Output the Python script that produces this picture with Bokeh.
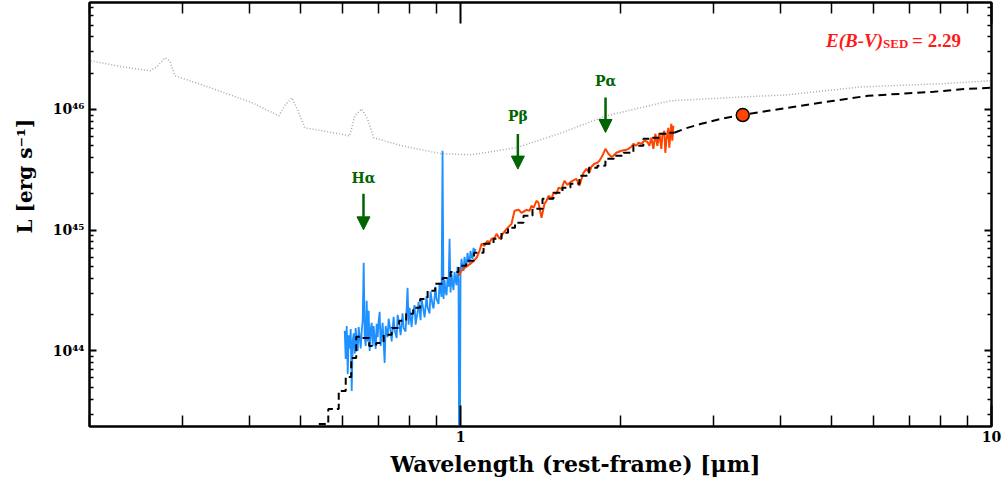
from bokeh.plotting import figure
from bokeh.models import (ColumnDataSource, FixedTicker, LogAxis, Label, Arrow,
                          NormalHead, Range1d, Title)
from bokeh.core.properties import value
from bokeh.embed import file_html
from bokeh.resources import INLINE

# ---------------- data (wavelength in micron, luminosity in 1e44 erg/s) -------------
template_wl = [0.201, 0.230, 0.260, 0.268, 0.2776, 0.2835, 0.2898, 0.3257, 0.363, 0.4045,
               0.4546, 0.466, 0.481, 0.494, 0.5087, 0.548, 0.6183, 0.632, 0.6514, 0.668,
               0.6862, 0.7745, 0.921, 1.049, 1.274, 1.549, 1.882, 2.483, 3.39, 4.10,
               5.70, 7.96, 10.0]
template_L44 = [253, 226, 209, 226, 268, 251, 190, 160, 135, 114,
                88.7, 107, 125, 97.7, 70.5, 66.7, 60.5, 88.7, 101, 83.2,
                58.3, 50.1, 43.0, 42.2, 48.2, 64.1, 88.7, 118, 127, 132,
                154, 163, 173]

blue_wl = [0.6050, 0.6076, 0.6103, 0.6129, 0.6156, 0.6182, 0.6209, 0.6236, 0.6263, 0.6290,
           0.6318, 0.6345, 0.6373, 0.6400, 0.6428, 0.6456, 0.6484, 0.6512, 0.6540, 0.6569,
           0.6597, 0.6626, 0.6654, 0.6683, 0.6712, 0.6741, 0.6771, 0.6800, 0.6830, 0.6859,
           0.6889, 0.6919, 0.6949, 0.6979, 0.7009, 0.7040, 0.7070, 0.7101, 0.7132, 0.7163,
           0.7194, 0.7225,
           0.7288, 0.7319, 0.7383, 0.7415, 0.7479, 0.7512, 0.7577, 0.7610, 0.7676, 0.7709,
           0.7776, 0.7810, 0.7878, 0.7946, 0.7981, 0.8016, 0.8086, 0.8121, 0.8191, 0.8227,
           0.8298, 0.8334, 0.8407, 0.8443, 0.8517, 0.8554, 0.8628, 0.8666, 0.8741, 0.8779,
           0.8855, 0.8893, 0.8971, 0.9010, 0.9088, 0.9128, 0.9207,
           0.9247, 0.9287, 0.9328, 0.9368, 0.9409, 0.9450, 0.9491, 0.9532, 0.9573, 0.9615,
           0.9656, 0.9698, 0.9740, 0.9782, 0.9825, 0.9868, 0.9911, 0.9954, 0.9997, 1.0040,
           1.0084, 1.0128, 1.0172, 1.0216, 1.0260, 1.0305, 1.0349, 1.0394, 1.0439, 1.0485,
           1.0530, 1.0576, 1.0622, 1.0668]
blue_L44 = [1.47, 0.86, 1.61, 0.646, 1.35, 1.05, 1.52, 0.467, 1.21, 1.40,
            0.95, 1.55, 1.15, 1.00, 1.58, 1.30, 1.05, 1.45, 1.78, 5.37,
            1.33, 1.10, 2.60, 1.20, 2.15, 1.00, 1.50, 1.71, 1.10, 1.61,
            1.25, 1.04, 1.68, 1.30, 1.78, 2.11, 1.10, 1.40, 1.71, 1.15,
            0.797, 1.61,
            1.30, 1.85, 1.45, 1.20, 1.92, 1.50, 1.28, 1.99, 1.60, 1.35,
            2.05, 1.55, 1.45, 3.33, 1.65, 2.28, 1.58, 2.00, 2.40, 1.65,
            2.10, 2.55, 1.80, 2.70, 2.15, 1.90, 2.85, 2.30, 2.05, 3.10,
            2.40, 2.25, 3.40, 2.70, 2.45, 3.67, 2.80,
            45.5, 2.70, 3.88, 3.10, 2.90, 4.03, 3.40, 8.49, 3.05, 4.35,
            3.60, 3.20, 4.52, 3.90, 3.50, 4.98, 3.80, 0.01, 4.44, 5.80,
            4.90, 4.61, 6.02, 5.30, 5.00, 6.50, 5.60, 5.37, 6.75, 6.10,
            5.80, 7.15, 6.40, 7.01]

nir_wl = [0.9914, 1.004, 1.0175, 1.0305, 1.0488, 1.0717, 1.0858, 1.0952, 1.1094, 1.1240,
          1.1337, 1.1436, 1.1587, 1.1686, 1.1841, 1.2047, 1.2209, 1.2472, 1.2636, 1.2857,
          1.3024, 1.3310, 1.3484, 1.3601, 1.3720, 1.3898, 1.4020, 1.4204, 1.4389, 1.4514,
          1.4641, 1.4832, 1.4961, 1.5157, 1.5289, 1.5488, 1.5690, 1.5902, 1.6034, 1.6242,
          1.6528, 1.6744, 1.7037, 1.7260, 1.7485, 1.7637, 1.7868, 1.8101, 1.8259, 1.8497,
          1.8741, 1.8986, 1.9231, 1.9402, 1.9652, 2.0086, 2.0522, 2.0704, 2.0971, 2.1157,
          2.1431, 2.1620, 2.1899, 2.2190, 2.2480, 2.2675, 2.2873, 2.3073, 2.3274, 2.3476,
          2.3679, 2.3885, 2.3988, 2.4197, 2.4302, 2.4407, 2.4619, 2.4726, 2.4833, 2.4941,
          2.5049, 2.5158]
nir_L44 = [4.19, 4.61, 4.88, 5.07, 5.37, 5.91, 6.75, 7.72, 7.43, 8.17,
           7.87, 8.49, 8.65, 9.34, 8.49, 9.52, 10.27, 11.30, 14.48, 14.76,
           13.94, 14.76, 14.48, 15.93, 15.33, 17.52, 16.87, 12.67, 16.55, 17.52,
           19.28, 18.20, 20.41, 20.03, 22.46, 22.03, 25.66, 23.77, 24.70, 25.66,
           26.66, 23.33, 29.90, 32.27, 29.90, 33.52, 35.49, 36.17, 37.58, 41.35,
           47.25, 42.96, 40.56, 41.35, 43.78, 45.48, 46.36, 47.25, 49.09, 51.97,
           50.05, 52.97, 51.97, 55.05, 54.0, 50.05, 58.30, 47.25, 62.91, 50.05,
           64.12, 47.25, 60.56, 66.61, 43.78, 55.05, 70.53, 48.17, 62.91, 76.13,
           55.05, 73.27]

model_bin_wl = [0.5291, 0.5478, 0.5794, 0.5998, 0.6156, 0.6291, 0.6428, 0.6626, 0.6830, 0.7040,
                0.7289, 0.7545, 0.7778, 0.8018, 0.8264, 0.8518, 0.8820, 0.9093, 0.9412, 0.9744,
                1.0087, 1.0397, 1.0811, 1.1288, 1.1788, 1.2100, 1.2472, 1.2857, 1.3425, 1.3898,
                1.4641, 1.5289, 1.5826, 1.6385, 1.7111, 1.7790, 1.8417, 1.9069, 1.9827, 2.0704,
                2.1620, 2.2578, 2.3173, 2.4197, 2.5267]
model_bin_L44 = [0.180, 0.249, 0.331, 0.467, 0.610, 0.877, 1.31, 1.28, 1.10, 1.167,
                 1.36, 1.55, 1.78, 2.03, 2.28, 2.70, 3.15, 3.60, 4.03, 4.52,
                 5.07, 5.58, 6.50, 7.72, 8.49, 9.52, 10.47, 11.51, 13.16, 15.04,
                 18.20, 20.41, 22.46, 24.24, 28.23, 32.89, 34.16, 39.04, 41.35, 43.78,
                 50.05, 57.19, 58.30, 62.91, 64.12]
model_ir_wl = [2.5267, 2.6385, 2.8397, 3.0971, 3.4064, 3.7960, 4.3783, 5.0502, 5.8541, 6.7520,
               7.7880, 9.0282, 10.0]
model_ir_L44 = [64.12, 69.20, 76.13, 83.75, 90.40, 97.55, 107.3, 118.1, 129.9, 134.9,
                140.2, 148.4, 151.3]

phot_wl = [3.40]
phot_L44 = [90.0]

line_names = ["H\u03b1", "P\u03b2", "P\u03b1"]
line_wl = [0.6563, 1.282, 1.875]
line_label_L = [2.72e45, 8.87e45, 1.729e46]
arrow_top_L = [2.003e45, 6.254e45, 1.257e46]
arrow_tip_L = [1.008e45, 3.208e45, 6.449e45]

x_major_ticks = [1, 10]
x_major_labels = ["1", "10"]
x_minor_ticks = [0.2, 0.3, 0.4, 0.5, 0.6, 0.7, 0.8, 0.9, 2, 3, 4, 5, 6, 7, 8, 9]
y_major_ticks = [1e44, 1e45, 1e46]
y_major_labels = ["10\u2074\u2074", "10\u2074\u2075", "10\u2074\u2076"]

ebv_text = "E(B-V)"
ebv_sub = "SED"
ebv_value = "= 2.29"

x_label = "Wavelength (rest-frame) [\u03bcm]"
y_label = "L [erg s\u207b\u00b9]"

# ---------------- figure ----------------
Y_LO, Y_HI = 2.37e43, 7.69e46
SCALE = 1e44

p = figure(width=1003, height=484, x_axis_type="log", y_axis_type="log",
           x_range=Range1d(0.2, 10), y_range=Range1d(Y_LO, Y_HI),
           output_backend="svg", toolbar_location=None,
           min_border_left=89, min_border_right=12, min_border_top=2, min_border_bottom=58)
p.grid.visible = False
p.outline_line_color = "black"
p.outline_line_width = 2
p.background_fill_color = "white"
p.border_fill_color = "white"

y_minor_ticks = [m * 10.0 ** e for e in (43, 44, 45, 46) for m in range(2, 10)
                 if Y_LO < m * 10.0 ** e < Y_HI]
xt = FixedTicker(ticks=x_major_ticks, minor_ticks=x_minor_ticks)
yt = FixedTicker(ticks=y_major_ticks, minor_ticks=y_minor_ticks)

FONT = "DejaVu Serif"


def style_axis(ax, ticker, maj_in, min_in, overrides, size, standoff):
    ax.ticker = ticker
    ax.axis_line_width = 2
    ax.axis_line_color = "black"
    ax.major_tick_in = maj_in
    ax.major_tick_out = 0
    ax.minor_tick_in = min_in
    ax.minor_tick_out = 0
    ax.major_tick_line_width = 2
    ax.minor_tick_line_width = 1.5
    ax.major_tick_line_color = "black"
    ax.minor_tick_line_color = "black"
    ax.major_label_overrides = overrides
    ax.major_label_text_font = FONT
    ax.major_label_text_font_style = "bold"
    ax.major_label_text_font_size = size
    ax.major_label_text_color = "black"
    ax.major_label_standoff = standoff


style_axis(p.xaxis[0], xt, 21, 11, dict(zip(x_major_ticks, x_major_labels)), "14px", 4)
style_axis(p.yaxis[0], yt, 7, 4, dict(zip(y_major_ticks, y_major_labels)), "14px", 5)

top_ax = LogAxis()
style_axis(top_ax, xt, 21, 11, {t: "" for t in x_major_ticks}, "0px", 0)
p.add_layout(top_ax, "above")
right_ax = LogAxis()
style_axis(right_ax, yt, 7, 4, {t: "" for t in y_major_ticks}, "0px", 0)
p.add_layout(right_ax, "right")

# axis titles
p.add_layout(Title(text=x_label, align="left", offset=301, vertical_align="bottom",
                   standoff=8, text_font=FONT, text_font_style="bold",
                   text_font_size="22px", text_color="black"), "below")
p.add_layout(Title(text=y_label, align="left", offset=193, vertical_align="top",
                   standoff=22, text_font=FONT, text_font_style="bold",
                   text_font_size="20px", text_color="black"), "left")

# ---------------- curves ----------------
p.line(template_wl, [v * SCALE for v in template_L44],
       line_color="#a8a8a8", line_width=1.5, line_dash="1 2")
p.line(blue_wl, [v * SCALE for v in blue_L44], line_color="#1e90ff", line_width=1.8)
p.line(nir_wl, [v * SCALE for v in nir_L44], line_color="#ff4500", line_width=2)
p.step(model_bin_wl, [v * SCALE for v in model_bin_L44], mode="center",
       line_color="black", line_width=2, line_dash="7 4")
p.line(model_ir_wl, [v * SCALE for v in model_ir_L44],
       line_color="black", line_width=2, line_dash="8 5")
p.scatter(phot_wl, [v * SCALE for v in phot_L44], marker="circle", size=13,
          fill_color="#ff4500", line_color="black", line_width=1.5)

# ---------------- emission line markers ----------------
GREEN = "#006400"
lsrc = ColumnDataSource(dict(wl=line_wl, lab=line_label_L, top=arrow_top_L,
                             tip=arrow_tip_L, name=line_names))
p.add_layout(Arrow(end=NormalHead(size=13, fill_color=GREEN, line_color=GREEN),
                   x_start="wl", y_start="top", x_end="wl", y_end="tip",
                   line_color=GREEN, line_width=2.5, source=lsrc))
p.text(x="wl", y="lab", text="name", source=lsrc, text_font=value(FONT),
       text_font_style="bold", text_font_size="14px", text_color=GREEN,
       text_align="center", text_baseline="middle")

# ---------------- E(B-V) annotation ----------------
RED = "#ff1a1a"
p.add_layout(Label(x=4.88, y=3.71e46, text=ebv_text, text_font="Liberation Serif",
                   text_font_style="bold italic", text_font_size="19px", text_color=RED,
                   text_align="left", text_baseline="alphabetic"))
p.add_layout(Label(x=4.88, y=3.50e46, x_offset=57, text=ebv_sub, text_font="Liberation Serif",
                   text_font_style="bold", text_font_size="13px", text_color=RED,
                   text_align="left", text_baseline="alphabetic"))
p.add_layout(Label(x=4.88, y=3.71e46, x_offset=86, text=ebv_value, text_font="Liberation Serif",
                   text_font_style="bold", text_font_size="19px", text_color=RED,
                   text_align="left", text_baseline="alphabetic"))

open("out.html", "w").write(file_html(p, INLINE))
